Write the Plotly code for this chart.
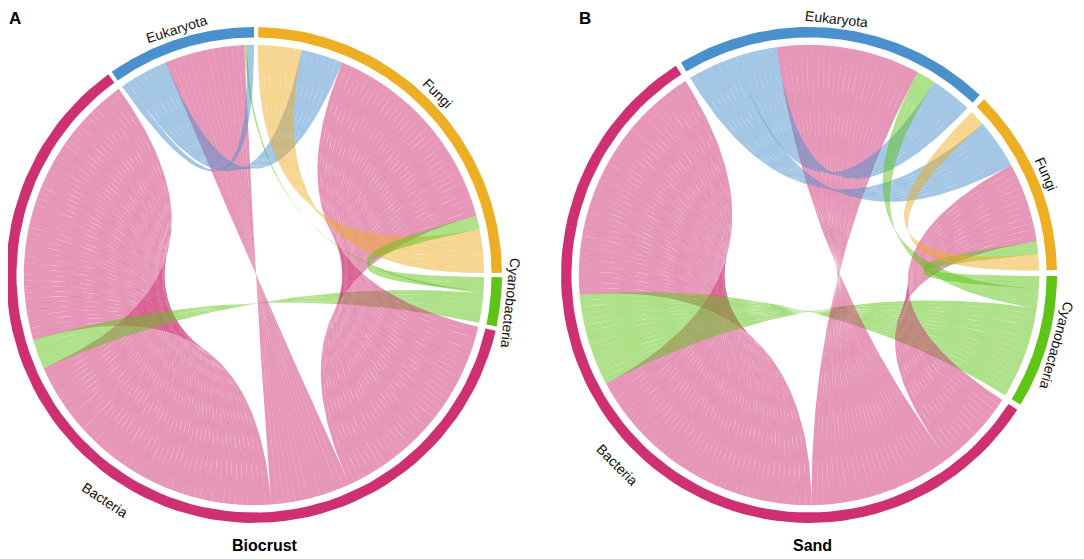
import numpy as np
import plotly.graph_objects as go

# sectors in counter-clockwise order round each circle
SECTOR_KEYS = ["C", "F", "E", "B"]
SECTOR_NAMES = {"C": "Cyanobacteria", "F": "Fungi", "E": "Eukaryota", "B": "Bacteria"}
SECTOR_COLORS = {"B": (206, 48, 114), "E": (74, 144, 205), "F": (238, 174, 35), "C": (94, 196, 22)}

# panel A, Biocrust: link key = two sectors, first letter gives the colour
A_LINKS = ["BB", "CB", "BE", "BF", "EF", "FF", "CF", "CE", "EE"]
A_VALUES = [70.4, 7.5, 20.2, 52.5, 10.6, 11.0, 3.4, 0.6, 1.8]
A_ORDER = {
    "C": ["CB", "CE", "CF"],
    "F": ["FF", "CF", "BF", "EF", "FF"],
    "E": ["EE", "CE", "BE", "EF", "EE"],
    "B": ["BB", "CB", "BB", "BE", "BF"],
}

# panel B, Sand
B_LINKS = ["BB", "CB", "BE", "BF", "EE", "EF", "CE", "CF", "FF"]
B_VALUES = [62.0, 23.0, 36.0, 20.0, 10.4, 12.4, 4.8, 3.2, 4.0]
B_ORDER = {
    "C": ["CB", "CE", "CF"],
    "F": ["FF", "CF", "BF", "EF", "FF"],
    "E": ["EE", "CE", "BE", "EE", "EF"],
    "B": ["BB", "CB", "BB", "BE", "BF"],
}

# the page body has an 8px margin, so the figure is drawn 8px in from the corner
W, H = 1076, 551
PX = 248          # pixels per unit radius
SPLIT = 532
A_CX, B_CX, CY = 246, 801, 267
R_OUT, R_IN, R_LINK = 1.0, 0.958, 0.928
R_LABEL, R_LABEL_FLIP = 1.04, 1.09
STRIP = 1.5       # degrees per drawn strip of a ribbon


def rgba(c, a):
    return "rgba(%d,%d,%d,%s)" % (c[0], c[1], c[2], a)


def layout_ends(links, values, order, start, gap):
    val = dict(zip(links, values))
    total = sum(val[k] for s in SECTOR_KEYS for k in order[s])
    scale = (360 - gap * len(SECTOR_KEYS)) / total
    sectors, ends = {}, {k: [] for k in links}
    theta = start
    for s in SECTOR_KEYS:
        s0 = theta
        for k in order[s]:
            w = val[k] * scale
            ends[k].append((theta, theta + w))
            theta += w
        sectors[s] = (s0, theta)
        theta += gap
    return sectors, ends


def arc(r, t0, t1, n=30):
    t = np.radians(np.linspace(t0, t1, n))
    return r * np.cos(t), r * np.sin(t)


def bezier(t0, t1, n=70):
    # quadratic curve with its control point at the centre
    p0 = R_LINK * np.array([np.cos(np.radians(t0)), np.sin(np.radians(t0))])
    p2 = R_LINK * np.array([np.cos(np.radians(t1)), np.sin(np.radians(t1))])
    s = np.linspace(0, 1, n)[:, None]
    pts = (1 - s) ** 2 * p0 + s ** 2 * p2
    return pts[:, 0], pts[:, 1]


def ribbon(e1, e2):
    (a1, a2), (b1, b2) = e1, e2
    parts = [arc(R_LINK, a1, a2, 6), bezier(a2, b2), arc(R_LINK, b2, b1, 6), bezier(b1, a1)]
    x = np.concatenate([p[0] for p in parts])
    y = np.concatenate([p[1] for p in parts])
    return x, y


def add_panel(fig, links, values, order, start, gap, xref, yref):
    sectors, ends = layout_ends(links, values, order, start, gap)
    for k in links:
        (a1, a2), (b1, b2) = ends[k]
        n = max(1, int(round((a2 - a1) / STRIP)))
        da, db = (a2 - a1) / n, (b2 - b1) / n
        for i in range(n):
            x, y = ribbon((a1 + i * da, a1 + (i + 1) * da), (b1 + i * db, b1 + (i + 1) * db))
            fig.add_trace(go.Scatter(
                x=x, y=y, mode="lines", fill="toself",
                fillcolor=rgba(SECTOR_COLORS[k[0]], 0.5), line=dict(width=0),
                hoverinfo="skip", showlegend=False, xaxis=xref, yaxis=yref))
    for s in SECTOR_KEYS:
        t0, t1 = sectors[s]
        xo, yo = arc(R_OUT, t0, t1, 80)
        xi, yi = arc(R_IN, t1, t0, 80)
        fig.add_trace(go.Scatter(
            x=np.concatenate([xo, xi]), y=np.concatenate([yo, yi]),
            mode="lines", fill="toself", fillcolor=rgba(SECTOR_COLORS[s], 1),
            line=dict(width=0), hoverinfo="skip", showlegend=False,
            xaxis=xref, yaxis=yref))
        mid = (t0 + t1) / 2
        ang, r = 90 - mid, R_LABEL
        if 190 < mid % 360 < 340:
            ang, r = ang + 180, R_LABEL_FLIP
        fig.add_annotation(
            x=r * np.cos(np.radians(mid)), y=r * np.sin(np.radians(mid)),
            xref=xref, yref=yref, text=SECTOR_NAMES[s], textangle=ang,
            showarrow=False, font=dict(size=14, color="#111111"))


fig = go.Figure()
add_panel(fig, A_LINKS, A_VALUES, A_ORDER, -12.0, 1.0, "x", "y")
add_panel(fig, B_LINKS, B_VALUES, B_ORDER, -31.5, 1.4, "x2", "y2")

yr = [-(H - CY) / PX, CY / PX]
fig.update_layout(
    width=W, height=H, margin=dict(l=0, r=0, t=0, b=0),
    paper_bgcolor="white", plot_bgcolor="white",
    font=dict(family="Arial, Liberation Sans, sans-serif"),
    xaxis=dict(domain=[0, SPLIT / W], range=[-A_CX / PX, (SPLIT - A_CX) / PX], visible=False),
    yaxis=dict(domain=[0, 1], range=yr, visible=False),
    xaxis2=dict(domain=[SPLIT / W, 1], range=[(SPLIT - B_CX) / PX, (W - B_CX) / PX], visible=False),
    yaxis2=dict(domain=[0, 1], range=yr, visible=False, anchor="x2"),
)

for xref, yref, letter, lx, title, tx in [("x", "y", "A", -A_CX / PX, "Biocrust", 0.045),
                                          ("x2", "y2", "B", -0.931, "Sand", 0.015)]:
    fig.add_annotation(x=lx, y=CY / PX, xref=xref, yref=yref, xanchor="left", yanchor="top",
                       borderpad=0, text="<b>%s</b>" % letter, showarrow=False,
                       font=dict(size=17, color="black"))
    fig.add_annotation(x=tx, y=-1.09, xref=xref, yref=yref, text="<b>%s</b>" % title,
                       showarrow=False, font=dict(size=16, color="black"))

fig.write_html("out.html")
